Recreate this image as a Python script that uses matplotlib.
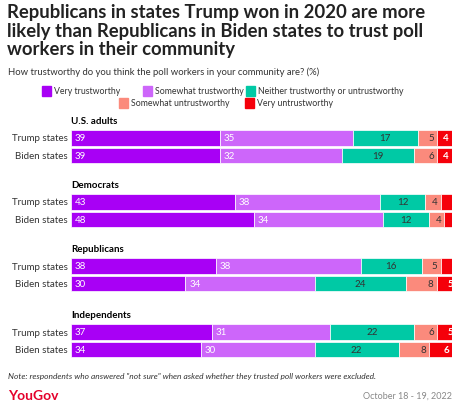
import matplotlib
matplotlib.use("Agg")
import matplotlib.pyplot as plt

groups = ["U.S. adults", "Democrats", "Republicans", "Independents"]
rows = ["Trump states", "Biden states"]
categories = ["Very trustworthy", "Somewhat trustworthy", "Neither trustworthy or untrustworthy",
              "Somewhat untrustworthy", "Very untrustworthy"]
values = {
    "U.S. adults": [[39, 35, 17, 5, 4], [39, 32, 19, 6, 4]],
    "Democrats": [[43, 38, 12, 4, 3], [48, 34, 12, 4, 2]],
    "Republicans": [[38, 38, 16, 5, 3], [30, 34, 24, 8, 5]],
    "Independents": [[37, 31, 22, 6, 5], [34, 30, 22, 8, 6]],
}
colors = ["#a800f5", "#cd66fa", "#00c9a5", "#fb8a7c", "#f5000a"]
txtcol = ["white", "white", "#333333", "#333333", "white"]

W, H = 460, 406
fig = plt.figure(figsize=(W/100, H/100), dpi=100)
L, R = 71, 452
ax = fig.add_axes([L/W, 0, (R-L)/W, 1])
ax.set_xlim(0, 100)
ax.set_ylim(H, 0)
ax.axis("off")

group_y = [122, 186, 250, 316]
for gi, g in enumerate(groups):
    gy = group_y[gi]
    ax.text(0, gy, g, fontsize=7, fontweight="bold", va="center", ha="left", family="Lato")
    for ri, r in enumerate(rows):
        y = gy + 17 + ri * 17.5
        left = 0
        for ci, v in enumerate(values[g][ri]):
            ax.barh(y, v, left=left, height=15.5, color=colors[ci], edgecolor="white", linewidth=0.5)
            if v >= 4:
                if ci == 0 or ci == 1:
                    ax.text(left + 1, y, str(v), color=txtcol[ci], fontsize=7, va="center", ha="left", family="Lato")
                elif ci == 2:
                    ax.text(left + v/2, y, str(v), color=txtcol[ci], fontsize=7, va="center", ha="center", family="Lato")
                else:
                    ax.text(left + v - 0.8, y, str(v), color=txtcol[ci], fontsize=7, va="center", ha="right", family="Lato",
                            fontweight="bold" if ci == 4 else "normal")
            left += v
        fig.text((L-3)/W, 1 - y/H, r, fontsize=7, ha="right", va="center", color="#333333", family="Lato")

fig.text(7/W, 1 - 31/H, "Republicans in states Trump won in 2020 are more\nlikely than Republicans in Biden states to trust poll\nworkers in their community",
         fontsize=13.3, fontweight="bold", va="center", ha="left", family="Lato", linespacing=1.08, color="#222222")
fig.text(8/W, 1 - 72/H, "How trustworthy do you think the poll workers in your community are? (%)",
         fontsize=6.8, va="center", ha="left", family="Lato", color="#333333")

leg1 = [(42, 0), (143, 1), (246, 2)]
leg2 = [(119, 3), (245, 4)]
for yy, items in [(92, leg1), (104, leg2)]:
    for x, ci in items:
        fig.patches.append(plt.Rectangle((x/W, 1-(yy+5)/H), 9/W, 10/H, color=colors[ci], transform=fig.transFigure))
        fig.text((x+12)/W, 1 - yy/H, categories[ci], fontsize=6.3, va="center", ha="left", family="Lato", color="#333333")

fig.text(8/W, 1 - 377/H, "Note: respondents who answered \"not sure\" when asked whether they trusted poll workers were excluded.",
         fontsize=6, style="italic", va="center", ha="left", family="Lato", color="#333333")
fig.text(8/W, 1 - 396/H, "YouGov", fontsize=10, fontweight="bold", color="#e4002b", va="center", ha="left", family="Lato")
fig.text(452/W, 1 - 396/H, "October 18 - 19, 2022", fontsize=6.5, color="#888888", va="center", ha="right", family="Lato")

fig.savefig("out.png", dpi=100)
